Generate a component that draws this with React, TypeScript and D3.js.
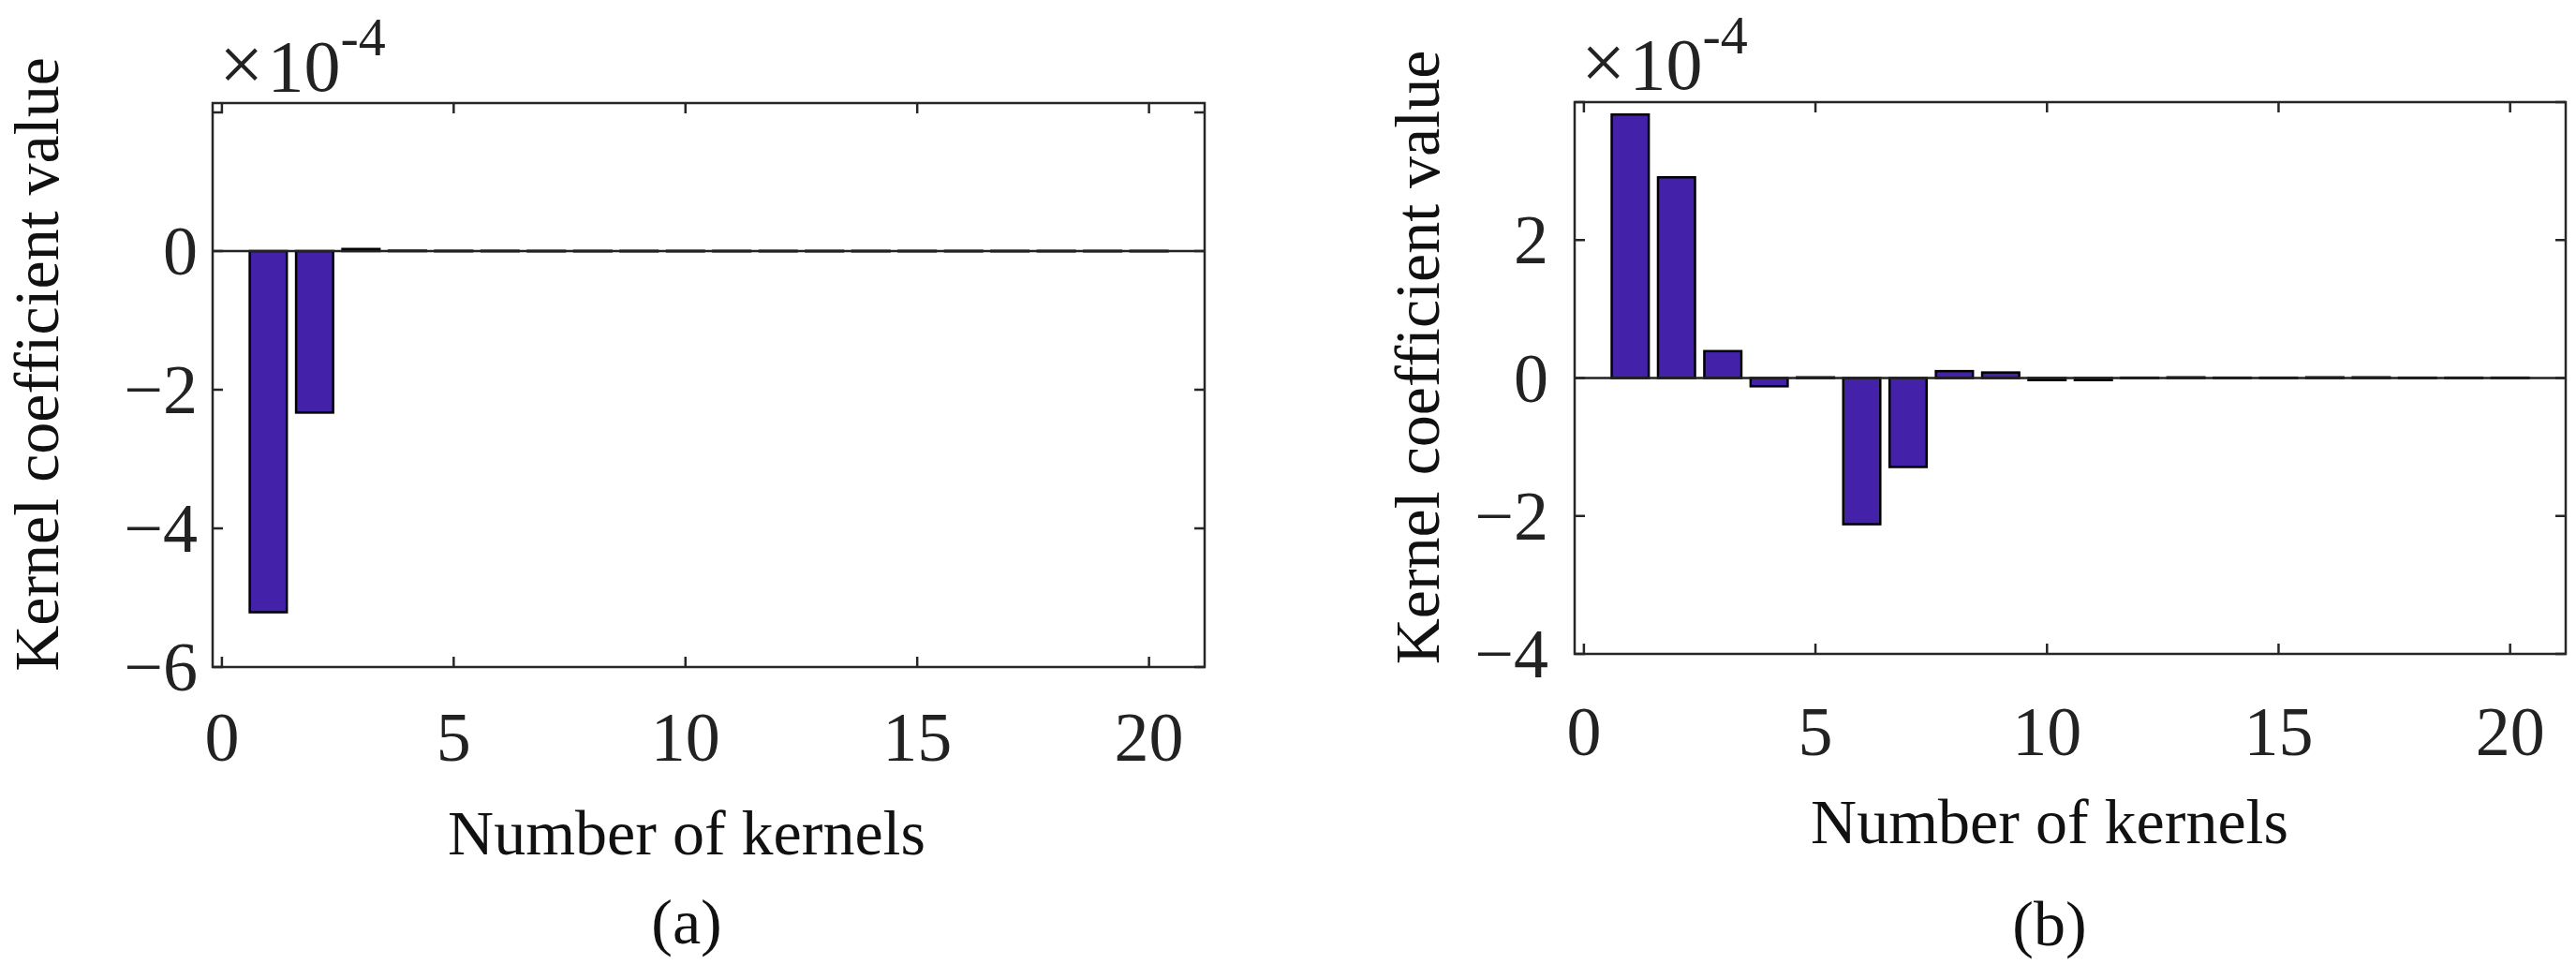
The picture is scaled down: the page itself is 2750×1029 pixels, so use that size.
import React, { useEffect, useRef } from "react";
import * as d3 from "d3";

const kernels = d3.range(1, 21);
const valuesA = [-5.21, -2.33, 0.03, 0.006, 0.004, 0.004, 0.003, 0.003, 0.003, 0.003, 0.003, 0.003, 0.003, 0.003, 0.003, 0.003, 0.003, 0.003, 0.003, 0.003];
const valuesB = [3.82, 2.91, 0.39, -0.12, 0.01, -2.12, -1.29, 0.1, 0.08, -0.03, -0.03, 0.005, 0.01, 0.005, 0.005, 0.01, 0.01, 0.005, 0.005, 0.005];
const xTicks = [0, 5, 10, 15, 20];
const yTicksA = [-6, -4, -2, 0];
const yTicksB = [-4, -2, 0, 2];
const yTickMarksA = [-6, -4, -2, 0, 2];
const yTickMarksB = [-4, -2, 0, 2, 4];

const FONT = "'Liberation Serif', 'Times New Roman', serif";
const BAR = "#4321a9";

type Panel = {
  values: number[];
  yDomain: [number, number];
  yTicks: number[];
  yTickMarks: number[];
  left: number; right: number; top: number; bottom: number;
  ylabelX: number; xlabelY: number; tickY: number; capY: number; capX: number;
  labelCx: number; letter: string; letterY: number; ytickGap: number;
};

const panels: Panel[] = [
  { values: valuesA, yDomain: [-6, 2.135], yTicks: yTicksA, yTickMarks: yTickMarksA,
    left: 227, right: 1286, top: 110, bottom: 712,
    ylabelX: 62, xlabelY: 912, tickY: 812, capY: 97, capX: 234, labelCx: 733, letter: "(a)", letterY: 1007, ytickGap: 16 },
  { values: valuesB, yDomain: [-4, 4], yTicks: yTicksB, yTickMarks: yTickMarksB,
    left: 1681, right: 2739, top: 109, bottom: 698,
    ylabelX: 1536, xlabelY: 900, tickY: 806, capY: 95, capX: 1688, labelCx: 2188, letter: "(b)", letterY: 1009, ytickGap: 28 },
];

export default function App() {
  const ref = useRef<SVGSVGElement>(null);
  useEffect(() => {
    const svg = d3.select(ref.current);
    svg.selectAll("*").remove();
    svg.append("rect").attr("width", 2750).attr("height", 1029).attr("fill", "#fff");
    panels.forEach((p) => {
      const x = d3.scaleLinear().domain([-0.2, 21.2]).range([p.left, p.right]);
      const y = d3.scaleLinear().domain(p.yDomain).range([p.bottom, p.top]);
      const g = svg.append("g");
      const bw = (x(1) - x(0)) * 0.8;
      g.selectAll("rect.bar").data(p.values).enter().append("rect")
        .attr("x", (_, i) => x(kernels[i]) - bw / 2)
        .attr("width", bw)
        .attr("y", (d) => Math.min(y(d), y(0)))
        .attr("height", (d) => Math.max(Math.abs(y(d) - y(0)), 0.5))
        .attr("fill", BAR).attr("stroke", "#000").attr("stroke-width", 2.5);
      g.append("line").attr("x1", p.left).attr("x2", p.right).attr("y1", y(0)).attr("y2", y(0))
        .attr("stroke", "#222").attr("stroke-width", 2.5);
      g.append("rect").attr("x", p.left).attr("y", p.top).attr("width", p.right - p.left).attr("height", p.bottom - p.top)
        .attr("fill", "none").attr("stroke", "#262626").attr("stroke-width", 2.5);
      const tl = 11;
      xTicks.forEach((t) => {
        g.append("line").attr("x1", x(t)).attr("x2", x(t)).attr("y1", p.bottom).attr("y2", p.bottom - tl).attr("stroke", "#262626").attr("stroke-width", 2.5);
        g.append("line").attr("x1", x(t)).attr("x2", x(t)).attr("y1", p.top).attr("y2", p.top + tl).attr("stroke", "#262626").attr("stroke-width", 2.5);
        g.append("text").attr("x", x(t)).attr("y", p.tickY).attr("text-anchor", "middle")
          .attr("font-family", FONT).attr("font-size", 74).attr("fill", "#222").text(String(t));
      });
      p.yTickMarks.forEach((t) => {
        if (y(t) < p.top - 1) return;
        g.append("line").attr("x1", p.left).attr("x2", p.left + tl).attr("y1", y(t)).attr("y2", y(t)).attr("stroke", "#262626").attr("stroke-width", 2.5);
        g.append("line").attr("x1", p.right).attr("x2", p.right - tl).attr("y1", y(t)).attr("y2", y(t)).attr("stroke", "#262626").attr("stroke-width", 2.5);
      });
      p.yTicks.forEach((t) => {
        g.append("text").attr("x", p.left - p.ytickGap).attr("y", y(t)).attr("dy", "0.34em").attr("text-anchor", "end")
          .attr("font-family", FONT).attr("font-size", 74).attr("fill", "#222").text(t < 0 ? "\u2212" + Math.abs(t) : String(t));
      });
      const cap = g.append("text").attr("x", p.capX).attr("y", p.capY).attr("font-family", FONT).attr("font-size", 78).attr("fill", "#222");
      cap.append("tspan").attr("font-size", 84).text("\u00d7");
      cap.append("tspan").attr("dx", 4).text("10");
      cap.append("tspan").attr("dy", -38).attr("font-size", 58).text("-4");
      g.append("text").attr("transform", `translate(${p.ylabelX},${(p.top + p.bottom) / 2 - 22}) rotate(-90)`)
        .attr("text-anchor", "middle").attr("font-family", FONT).attr("font-size", 68).attr("fill", "#111")
        .text("Kernel coefficient value");
      g.append("text").attr("x", p.labelCx).attr("y", p.xlabelY).attr("text-anchor", "middle")
        .attr("font-family", FONT).attr("font-size", 68).attr("fill", "#111").text("Number of kernels");
      g.append("text").attr("x", p.labelCx).attr("y", p.letterY).attr("text-anchor", "middle")
        .attr("font-family", FONT).attr("font-size", 68).attr("fill", "#111").text(p.letter);
    });
  }, []);
  return (
    <svg ref={ref} width={2750} height={1029} style={{ position: "absolute", left: 0, top: 0 }} />
  );
}
